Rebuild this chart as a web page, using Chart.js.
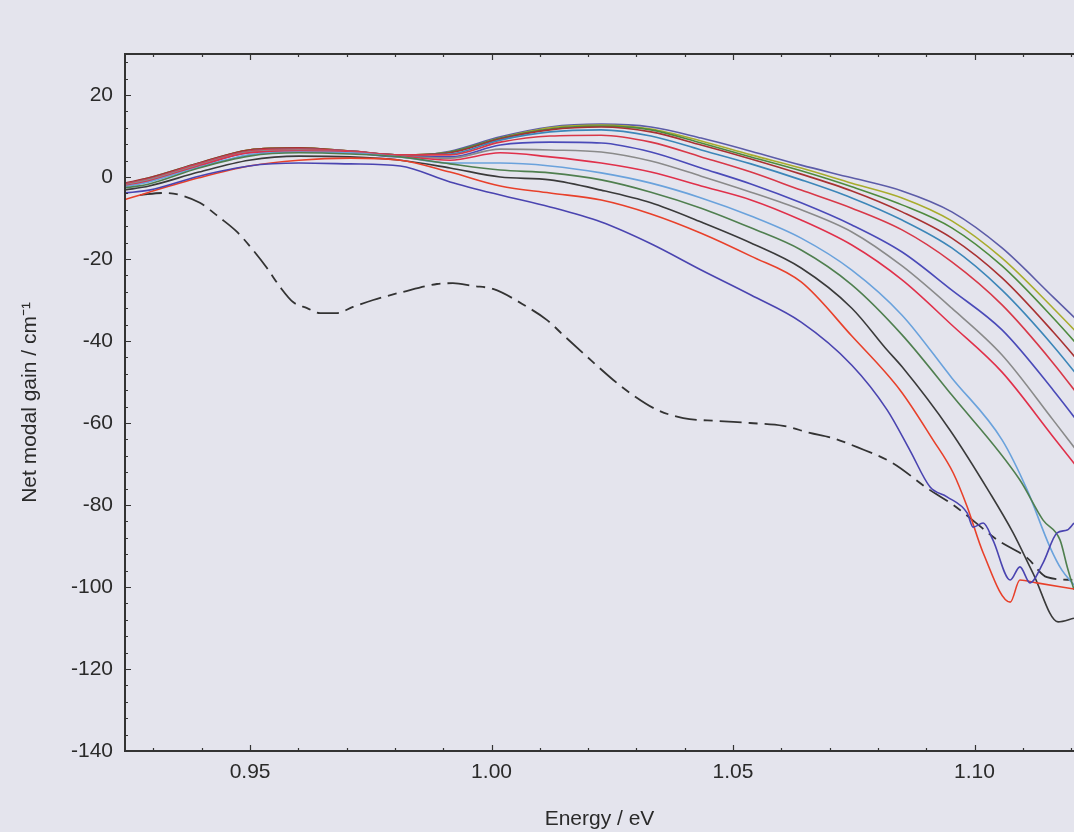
<!DOCTYPE html>
<html lang="en">
<head>
<meta charset="UTF-8">
<title>Net modal gain</title>
<style>
  html, body { margin: 0; padding: 0; overflow: hidden; background: #e4e4ed; }
  .wrap-chart { position: relative; width: 1074px; height: 832px; }
</style>
</head>
<body>
<div class="wrap-chart">
  <canvas id="myChart"></canvas>
</div>

<script src="https://cdn.jsdelivr.net/npm/chart.js"></script>
<script>
// photon-energy grid (eV) the smooth part of every curve is read on
const energy = [0.9239, 0.9291, 0.9394, 0.9498, 0.9601, 0.9707, 0.9811, 0.9914, 1.0018, 1.0121, 1.0227,
                1.0330, 1.0434, 1.0537, 1.0641, 1.0746, 1.0850, 1.0953, 1.1057, 1.1163, 1.1266];

// net modal gain (cm^-1), lowest current first
const gain1 = [-3.9, -3.2, 0.2, 2.7, 3.4, 3.2, 2.7, -1.2, -4.4, -7.3, -11.0, -16.3, -22.7, -28.8, -35.4, -45.9];
const tailE1 = [1.0819, 1.0866, 1.0908, 1.0943, 1.0985, 1.0997, 1.1018, 1.1038, 1.1074, 1.1094, 1.1115, 1.1142, 1.1171, 1.1192, 1.1206];
const tailG1 = [-56.8, -66.6, -75.6, -78.0, -82.0, -85.4, -84.4, -88.5, -98.3, -95.1, -99.0, -94.1, -86.8, -86.1, -84.4];

const gain2 = [-5.6, -3.7, -0.2, 2.7, 4.1, 4.6, 4.1, 1.2, -2.2, -3.9, -5.6, -9.0, -13.7, -19.3, -25.6, -38.8];
const tailE2 = [1.0846, 1.0914, 1.0956, 1.0985, 1.1018, 1.1074, 1.1094, 1.1129, 1.1206];
const tailG2 = [-52.0, -64.1, -72.2, -80.5, -91.7, -103.7, -98.3, -99.0, -100.5];

const gain3 = [-3.2, -2.2, 1.2, 4.1, 5.1, 4.9, 4.1, 2.2, 0.0, -0.7, -3.2, -6.3, -11.0, -16.1, -22.2, -32.0];
const tailE3 = [1.0819, 1.0850, 1.0949, 1.1032, 1.1080, 1.1121, 1.1173, 1.1206];
const tailG3 = [-42.2, -46.3, -61.7, -77.1, -86.8, -96.6, -108.5, -107.6];

const gain4 = [-2.7, -1.7, 2.2, 5.1, 5.9, 5.6, 4.9, 3.2, 1.7, 1.0, -0.7, -3.7, -7.6, -12.4, -17.8, -26.3, -38.5, -53.2];
const tailE4 = [1.1094, 1.1142, 1.1177, 1.1192, 1.1206];
const tailG4 = [-73.9, -83.7, -88.5, -95.1, -100.7];

const gain5 = [-2.4, -1.2, 2.4, 5.4, 6.1, 5.9, 4.9, 3.4, 3.4, 2.7, 1.0, -1.5, -5.1, -9.5, -14.9, -22.7, -33.7, -49.0];
const tailE5 = [1.1057, 1.1109, 1.1156, 1.1181, 1.1206];
const tailG5 = [-64.1, -76.3, -90.2, -95.9, -99.5];

const gain6 = [-2.2, -1.0, 2.7, 5.9, 6.3, 6.1, 5.1, 4.1, 5.9, 4.9, 3.4, 1.2, -2.2, -5.6, -10.5, -16.6, -25.1, -36.1, -47.6, -63.4, -78.8];
const gain7 = [-2.0, -0.7, 2.9, 6.1, 6.6, 6.1, 5.1, 4.6, 6.8, 6.6, 6.1, 3.9, 0.2, -3.7, -8.0, -13.4, -21.7, -32.0, -43.4, -59.3, -75.1];
const gain8 = [-2.2, -1.0, 2.7, 5.9, 6.3, 5.9, 4.9, 4.9, 7.8, 8.5, 8.3, 6.1, 2.2, -1.7, -6.3, -11.7, -18.3, -27.6, -37.3, -52.0, -67.8];
const gain9 = [-1.7, -0.5, 3.2, 6.3, 6.8, 6.3, 5.4, 5.4, 8.5, 10.0, 10.2, 8.5, 4.9, 1.2, -3.2, -7.6, -12.9, -20.7, -31.2, -45.4, -61.2];
const gain10 = [-1.7, -0.5, 3.2, 6.3, 6.8, 6.3, 5.4, 5.6, 9.0, 11.0, 11.5, 10.0, 6.6, 3.2, -0.7, -5.1, -10.5, -17.3, -27.6, -41.2, -56.3];
const gain11 = [-1.5, -0.2, 3.4, 6.6, 7.1, 6.3, 5.4, 5.9, 9.3, 11.5, 12.2, 11.0, 7.8, 4.4, 0.7, -3.4, -8.5, -14.9, -24.6, -37.8, -52.0];
const gain12 = [-1.7, -0.2, 3.4, 6.6, 7.1, 6.3, 5.4, 6.1, 9.5, 11.7, 12.4, 11.5, 8.3, 4.9, 1.5, -2.4, -6.8, -12.4, -21.7, -34.4, -48.0];
const gain13 = [-1.7, -0.5, 3.2, 6.6, 7.1, 6.3, 5.4, 6.1, 9.5, 12.0, 12.7, 11.7, 8.8, 5.4, 2.2, -1.5, -5.1, -10.7, -19.8, -32.0, -44.6];
const gain14 = [-2.0, -0.7, 2.9, 6.3, 6.8, 6.1, 5.1, 6.3, 9.8, 12.2, 12.9, 12.2, 9.5, 6.3, 2.9, -0.2, -3.4, -8.5, -17.3, -29.3, -41.0];

// dashed curve
const dashE = [0.9272, 0.9320, 0.9355, 0.9396, 0.9438, 0.9473, 0.9506, 0.9535, 0.9562, 0.9589, 0.9618, 0.9645,
               0.9680, 0.9713, 0.9755, 0.9817, 0.9887, 0.9920, 0.9962, 1.0003, 1.0074, 1.0115, 1.0148, 1.0189,
               1.0252, 1.0293, 1.0343, 1.0397, 1.0467, 1.0535, 1.0604, 1.0659, 1.0707, 1.0757, 1.0831, 1.0902,
               1.0956, 1.0991, 1.1047, 1.1109, 1.1150, 1.1206];
const dashG = [-4.4, -3.9, -4.4, -6.3, -10.0, -13.4, -17.8, -22.2, -26.8, -30.5, -32.0, -33.2,
               -33.2, -31.7, -30.0, -28.0, -26.1, -25.9, -26.6, -27.3, -31.7, -34.9, -38.5, -42.9,
               -49.5, -53.2, -56.8, -58.8, -59.5, -60.0, -60.7, -62.4, -63.7, -65.9, -69.8, -75.9,
               -80.0, -83.2, -88.5, -92.9, -97.6, -98.3];

const xTicks = [0.95, 1.00, 1.05, 1.10];
const yTicks = [-140, -120, -100, -80, -60, -40, -20, 0, 20];

const colors = ['#4a44b0', '#e8402a', '#3a3a3a', '#4f7f4f', '#6aa2dc', '#e0304a', '#8a8a8a',
                '#4a4ab8', '#d83848', '#3c86b8', '#a83232', '#4e8a3e', '#a8ac2c', '#5c5ca8'];

function pts(g, tE, tG) {
    const p = g.map((v, i) => ({ x: energy[i], y: v }));
    if (tE) tE.forEach((e, i) => p.push({ x: e, y: tG[i] }));
    return p;
}

const series = [
    pts(gain1, tailE1, tailG1), pts(gain2, tailE2, tailG2), pts(gain3, tailE3, tailG3),
    pts(gain4, tailE4, tailG4), pts(gain5, tailE5, tailG5),
    pts(gain6), pts(gain7), pts(gain8), pts(gain9), pts(gain10),
    pts(gain11), pts(gain12), pts(gain13), pts(gain14)
];

const datasets = series.map((d, i) => ({
    data: d,
    borderColor: colors[i],
    borderWidth: 1.6,
    pointRadius: 0,
    cubicInterpolationMode: 'monotone'
}));
datasets.push({
    data: dashE.map((e, i) => ({ x: e, y: dashG[i] })),
    borderColor: '#333333',
    borderWidth: 1.8,
    borderDash: [22, 7, 9, 7],
    pointRadius: 0,
    cubicInterpolationMode: 'monotone'
});

const frame = {
    id: 'frame',
    beforeDraw(chart) {
        const { ctx, width, height } = chart;
        ctx.save();
        ctx.fillStyle = '#e4e4ed';
        ctx.fillRect(0, 0, width, height);
        ctx.restore();
    },
    afterDraw(chart) {
        const { ctx, width, chartArea: { left, top, bottom }, scales: { x, y } } = chart;
        ctx.save();
        ctx.strokeStyle = '#333';
        ctx.lineWidth = 2;
        ctx.beginPath();
        ctx.moveTo(width + 2, top); ctx.lineTo(left, top);
        ctx.lineTo(left, bottom); ctx.lineTo(width + 2, bottom);
        ctx.stroke();
        ctx.lineWidth = 1.2;
        ctx.beginPath();
        // x ticks, inward, bottom and top
        for (let k = 93; k <= 112; k++) {
            const px = Math.round(x.getPixelForValue(k / 100)) + 0.5;
            const len = (k % 5 === 0) ? 6 : 3;
            ctx.moveTo(px, bottom); ctx.lineTo(px, bottom - len);
            ctx.moveTo(px, top); ctx.lineTo(px, top + len);
        }
        // y ticks, inward, left
        for (let v = -136; v <= 28; v += 4) {
            const py = Math.round(y.getPixelForValue(v)) + 0.5;
            const len = (v % 20 === 0) ? 6 : 3;
            ctx.moveTo(left, py); ctx.lineTo(left + len, py);
        }
        ctx.stroke();
        ctx.restore();
    }
};

const font = { family: "'Liberation Sans', Arial, sans-serif", size: 21 };

new Chart(document.getElementById('myChart'), {
    type: 'line',
    data: { datasets: datasets },
    plugins: [frame],
    options: {
        responsive: true,
        maintainAspectRatio: false,
        animation: false,
        layout: { padding: { top: 54, left: 0, right: 0, bottom: 0 } },
        plugins: { legend: { display: false }, tooltip: { enabled: false } },
        scales: {
            x: {
                type: 'linear',
                min: 0.9241,
                max: 1.1206,
                afterFit(scale) { scale.height = 81; },
                afterBuildTicks(scale) { scale.ticks = xTicks.map(v => ({ value: v })); },
                grid: { display: false, drawTicks: false },
                border: { display: false },
                ticks: {
                    font: font, color: '#2a2a2a', padding: 9, maxRotation: 0,
                    callback: v => v.toFixed(2)
                },
                title: {
                    display: true, text: 'Energy / eV', font: font, color: '#2a2a2a',
                    padding: { top: 8, bottom: 0 }
                }
            },
            y: {
                min: -140,
                max: 30,
                afterFit(scale) { scale.width = 125; },
                afterBuildTicks(scale) { scale.ticks = yTicks.map(v => ({ value: v })); },
                grid: { display: false, drawTicks: false },
                border: { display: false },
                ticks: { font: font, color: '#2a2a2a', padding: 12 },
                title: {
                    display: true, text: 'Net modal gain / cm⁻¹', font: font, color: '#2a2a2a',
                    padding: { top: 18, bottom: 0 }
                }
            }
        }
    }
});
</script>
</body>
</html>
